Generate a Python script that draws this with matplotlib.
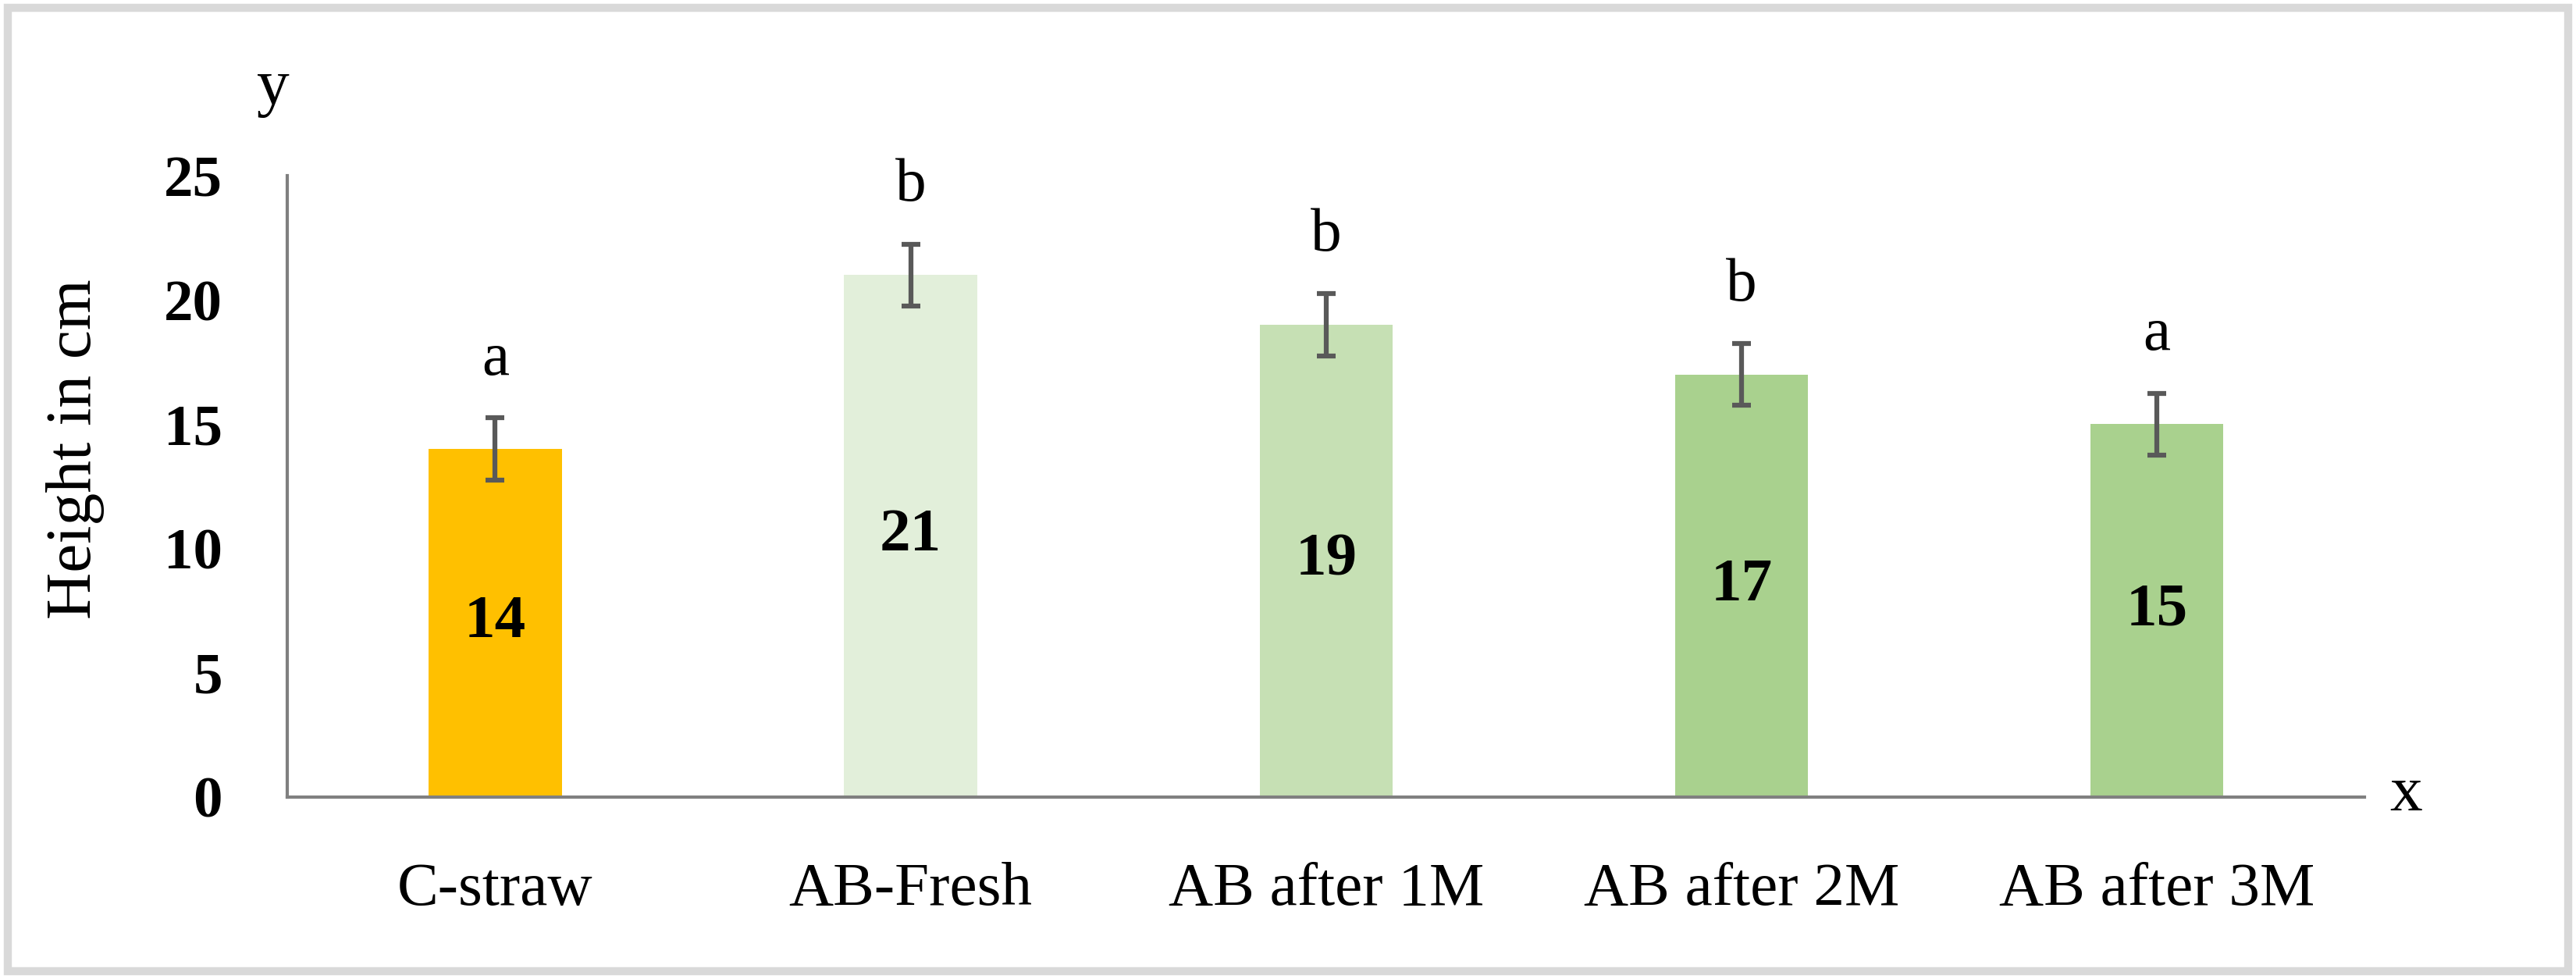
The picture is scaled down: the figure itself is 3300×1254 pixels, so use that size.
import matplotlib.pyplot as plt
from matplotlib.patches import Rectangle

plt.switch_backend("Agg")

# data
categories = ["C-straw", "AB-Fresh", "AB after 1M", "AB after 2M", "AB after 3M"]
heights = [14, 21, 19, 17, 15]
errors = [1.25, 1.25, 1.25, 1.25, 1.25]
letters = ["a", "b", "b", "b", "a"]
colors = ["#FFC000", "#E2EFDA", "#C6E0B4", "#A9D18E", "#A9D18E"]

serif = ["Liberation Serif", "DejaVu Serif"]
plt.rcParams["font.family"] = serif

fig = plt.figure(figsize=(11, 4.18), dpi=300)
ax = fig.add_axes([0.1116, 0.186, 0.8064, 0.6345])

x = list(range(len(categories)))
ax.bar(x, heights, width=0.32, color=colors, zorder=2)
ax.errorbar(x, heights, yerr=errors, fmt="none", ecolor="#595959",
            elinewidth=1.5, capsize=2.8, capthick=1.5, zorder=3)

# values inside bars and significance letters
for xi, h, e, lt in zip(x, heights, errors, letters):
    ax.text(xi, h / 2, str(h), ha="center", va="center", fontsize=19,
            fontweight="bold")
    ax.text(xi, h + e + 1.2, lt, ha="center", va="bottom", fontsize=19)

ax.set_xlim(-0.5, 4.5)
ax.set_ylim(0, 25)
ax.set_yticks([0, 5, 10, 15, 20, 25])
ax.set_xticks(x)
ax.set_xticklabels(categories, fontsize=19)
for lbl in ax.get_yticklabels():
    lbl.set_fontweight("bold")
    lbl.set_fontsize(18)
ax.tick_params(axis="both", length=0)
ax.tick_params(axis="x", pad=20)
ax.tick_params(axis="y", pad=20)

for s in ["top", "right"]:
    ax.spines[s].set_visible(False)
for s in ["left", "bottom"]:
    ax.spines[s].set_color("#808080")
    ax.spines[s].set_linewidth(1.0)

ax.set_ylabel("Height in cm", fontsize=20)
ax.yaxis.set_label_coords(-0.088, 0.56)

# axis letters
fig.text(0.106, 0.91, "y", fontsize=20, ha="center", va="center")
fig.text(0.934, 0.188, "x", fontsize=20, ha="center", va="center")

# outer frame
fig.patches.append(Rectangle((0.003, 0.008), 0.994, 0.984, transform=fig.transFigure,
                             fill=False, edgecolor="#d9d9d9", linewidth=2.5))

plt.savefig("out.png", dpi=300)
plt.close()
